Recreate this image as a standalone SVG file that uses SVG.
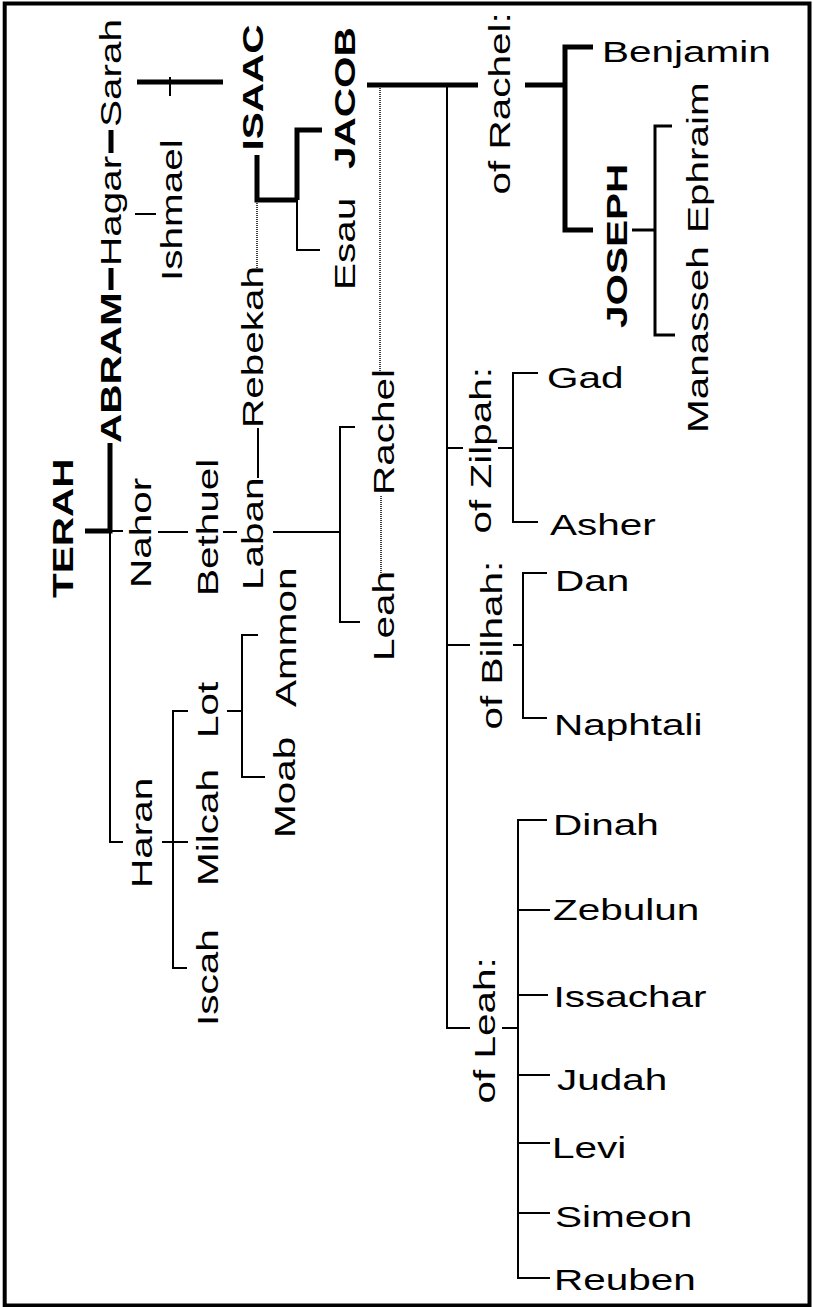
<svg xmlns="http://www.w3.org/2000/svg" width="813" height="1307" viewBox="0 0 813 1307">
<style>
text{font-family:"Liberation Sans",Arial,sans-serif;font-size:30px;fill:#000}
.b{font-weight:bold}
.t{stroke:#000;stroke-width:2;fill:none}
.m{stroke:#000;stroke-width:3;fill:none}
.k{stroke:#000;stroke-width:5;fill:none}
.d{stroke:#000;stroke-width:1.5;stroke-dasharray:1 1;fill:none}
</style>
<rect x="4.7" y="3.5" width="804.8" height="1302" fill="#fff" stroke="#000" stroke-width="4"/>
<g id="connectors">
<path class="k" d="M85,531H110V443"/>
<path class="t" d="M110,531H123M110,531V842H123"/>
<path class="k" d="M111,290V268M111,153V130"/>
<path class="k" d="M137,82H223"/>
<path class="t" d="M170,77V96"/>
<path class="t" d="M135,214H156"/>
<path class="t" d="M158,532H188M223,532H237M273,532H340M355,427H340V622H360"/>
<path class="t" d="M258,478V428"/>
<path class="d" d="M257,270V202M381,573V495M380,373V88"/>
<path class="k" d="M257,155V200H297M322,130H297V200"/>
<path class="t" d="M297,200V250H320"/>
<path class="k" d="M367,85H478M525,85H565M593,47H565V230H593"/>
<path class="m" d="M632,230H655M672,126H655V335H675"/>
<path class="t" d="M447,85V1028H470M447,448H463M447,645H470"/>
<path class="t" d="M498,448H513M538,373H513V522H538"/>
<path class="t" d="M513,645H523M547,573H523V718H547"/>
<path class="t" d="M502,1028H518M547,820H518V1278H550M518,910H550M518,995H548M518,1075H550M518,1143H550M518,1213H550"/>
<path class="t" d="M162,842H188M188,711H173V968H187"/>
<path class="t" d="M227,711H242M258,635H242V777H265"/>
</g>
<g id="terah"><text class="b" transform="translate(73,598) rotate(-90) scale(1.35,1)">TERAH</text></g>
<g id="abram"><text class="b" transform="translate(121,443) rotate(-90) scale(1.35,1)">ABRAM</text></g>
<g id="hagar"><text transform="translate(121,266) rotate(-90) scale(1.35,1)">Hagar</text></g>
<g id="sarah"><text transform="translate(121,127) rotate(-90) scale(1.35,1)">Sarah</text></g>
<g id="ishmael"><text transform="translate(182,281) rotate(-90) scale(1.35,1)">Ishmael</text></g>
<g id="nahor"><text transform="translate(151,588) rotate(-90) scale(1.35,1)">Nahor</text></g>
<g id="haran"><text transform="translate(152,888) rotate(-90) scale(1.35,1)">Haran</text></g>
<g id="bethuel"><text transform="translate(218,596) rotate(-90) scale(1.35,1)">Bethuel</text></g>
<g id="milcah"><text transform="translate(218,886) rotate(-90) scale(1.35,1)">Milcah</text></g>
<g id="lot"><text transform="translate(218,738) rotate(-90) scale(1.35,1)">Lot</text></g>
<g id="iscah"><text transform="translate(218,1026) rotate(-90) scale(1.35,1)">Iscah</text></g>
<g id="laban"><text transform="translate(263,590) rotate(-90) scale(1.35,1)">Laban</text></g>
<g id="rebekah"><text transform="translate(263,428) rotate(-90) scale(1.35,1)">Rebekah</text></g>
<g id="isaac"><text class="b" transform="translate(263,150.5) rotate(-90) scale(1.35,1)">ISAAC</text></g>
<g id="ammon"><text transform="translate(296,707) rotate(-90) scale(1.35,1)">Ammon</text></g>
<g id="moab"><text transform="translate(295,838) rotate(-90) scale(1.35,1)">Moab</text></g>
<g id="esau"><text transform="translate(355,290) rotate(-90) scale(1.35,1)">Esau</text></g>
<g id="jacob"><text class="b" transform="translate(355,169) rotate(-90) scale(1.35,1)">JACOB</text></g>
<g id="rachel"><text transform="translate(394,495) rotate(-90) scale(1.35,1)">Rachel</text></g>
<g id="leah"><text transform="translate(394,661) rotate(-90) scale(1.35,1)">Leah</text></g>
<g id="of-rachel"><text transform="translate(510,194.5) rotate(-90) scale(1.35,1)">of Rachel:</text></g>
<g id="of-zilpah"><text transform="translate(491,533.5) rotate(-90) scale(1.35,1)">of Zilpah:</text></g>
<g id="of-bilhah"><text transform="translate(502,729.5) rotate(-90) scale(1.35,1)">of Bilhah:</text></g>
<g id="of-leah"><text transform="translate(495,1103.5) rotate(-90) scale(1.35,1)">of Leah:</text></g>
<g id="joseph"><text class="b" transform="translate(627,328) rotate(-90) scale(1.35,1)">JOSEPH</text></g>
<g id="ephraim"><text transform="translate(708,233) rotate(-90) scale(1.35,1)">Ephraim</text></g>
<g id="manasseh"><text transform="translate(708,433) rotate(-90) scale(1.35,1)">Manasseh</text></g>
<g id="benjamin"><text transform="translate(602,62) scale(1.35,1)">Benjamin</text></g>
<g id="gad"><text transform="translate(547,388) scale(1.35,1)">Gad</text></g>
<g id="asher"><text transform="translate(550,535) scale(1.35,1)">Asher</text></g>
<g id="dan"><text transform="translate(555,591) scale(1.35,1)">Dan</text></g>
<g id="naphtali"><text transform="translate(554,735) scale(1.35,1)">Naphtali</text></g>
<g id="dinah"><text transform="translate(553,835) scale(1.35,1)">Dinah</text></g>
<g id="zebulun"><text transform="translate(553,920) scale(1.35,1)">Zebulun</text></g>
<g id="issachar"><text transform="translate(553.5,1007) scale(1.35,1)">Issachar</text></g>
<g id="judah"><text transform="translate(557,1090) scale(1.35,1)">Judah</text></g>
<g id="levi"><text transform="translate(552,1158) scale(1.35,1)">Levi</text></g>
<g id="simeon"><text transform="translate(555,1227) scale(1.35,1)">Simeon</text></g>
<g id="reuben"><text transform="translate(554,1290) scale(1.35,1)">Reuben</text></g>
</svg>
